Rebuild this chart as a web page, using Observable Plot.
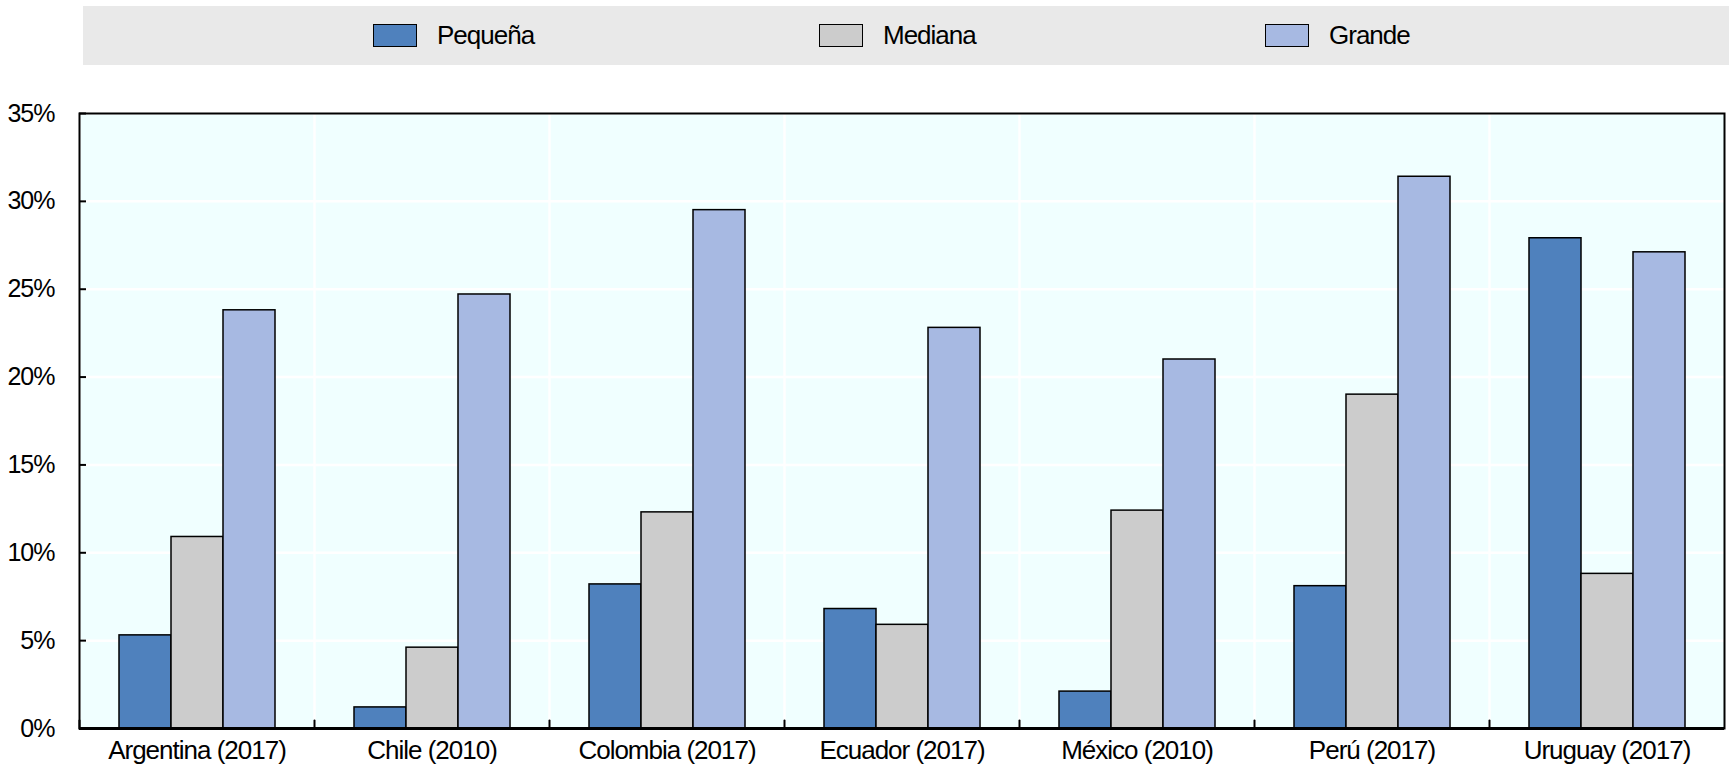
<!DOCTYPE html>
<html><head><meta charset="utf-8">
<script src="https://cdn.jsdelivr.net/npm/d3@7"></script>
<script src="https://cdn.jsdelivr.net/npm/@observablehq/plot@0.6"></script>
<style>
html,body{margin:0;padding:0;background:#fff;overflow:hidden;}
body{width:1729px;height:775px;position:relative;font-family:"Liberation Sans Narrow","Arial Narrow","Liberation Sans",sans-serif;}
#legend{position:absolute;left:83px;top:6px;width:1646px;height:59px;background:#e9e9e9;}
.item{position:absolute;top:0;height:59px;display:flex;align-items:center;font-size:26px;letter-spacing:-1px;color:#000;white-space:nowrap;}
.sw{width:42px;height:21px;border:1.5px solid #000;margin-right:20px;box-sizing:content-box;}
#chart{position:absolute;left:0;top:70px;}
#chart svg text{letter-spacing:-1px;}
</style></head>
<body>
<div id="legend"></div>
<div id="chart"></div>
<script>
const categories = ["Argentina (2017)", "Chile (2010)", "Colombia (2017)", "Ecuador (2017)", "México (2010)", "Perú (2017)", "Uruguay (2017)"];
const series = ["Pequeña", "Mediana", "Grande"];
const pequena = [5.3, 1.2, 8.2, 6.8, 2.1, 8.1, 27.9];
const mediana = [10.9, 4.6, 12.3, 5.9, 12.4, 19.0, 8.8];
const grande = [23.8, 24.7, 29.5, 22.8, 21.0, 31.4, 27.1];
const yTicks = [0, 5, 10, 15, 20, 25, 30, 35];
const colors = ["#4f81bd", "#cccccc", "#a7b9e2"];

const FONT = '"Liberation Sans Narrow","Arial Narrow","Liberation Sans",sans-serif';

// legend
const legend = document.getElementById("legend");
series.forEach((s, i) => {
  const it = document.createElement("div");
  it.className = "item";
  it.style.left = (290 + i * 446) + "px";
  const sw = document.createElement("div");
  sw.className = "sw";
  sw.style.background = colors[i];
  const tx = document.createElement("span");
  tx.textContent = s;
  it.appendChild(sw); it.appendChild(tx);
  legend.appendChild(it);
});

const values = [pequena, mediana, grande];
const data = categories.flatMap((c, i) => series.map((s, j) => ({country: c, series: s, value: values[j][i]})));

const chart = Plot.plot({
  width: 1729, height: 705,
  marginTop: 43, marginBottom: 47, marginLeft: 78, marginRight: 5,
  style: {fontFamily: FONT, fontSize: "26px", color: "#000", background: "transparent"},
  fx: {domain: categories, padding: 0, label: null},
  x: {domain: series, paddingInner: 0, paddingOuter: 0.75, axis: null},
  y: {domain: [0, 35], label: null},
  color: {domain: series, range: colors},
  marks: [
    Plot.frame({fill: "#f0ffff"}),
    Plot.gridY(yTicks, {stroke: "white", strokeOpacity: 1, strokeWidth: 2.5}),
    Plot.frame({anchor: "left", stroke: "white", strokeOpacity: 1, strokeWidth: 2.5}),
    Plot.barY(data, {fx: "country", x: "series", y: "value", fill: "series", stroke: "#000", strokeWidth: 1.5}),
    Plot.vector([0], {frameAnchor: "bottom-left", length: 8, rotate: 0, anchor: "start", stroke: "#000", strokeWidth: 2,
      shape: {draw(context, l) { context.moveTo(0, 0); context.lineTo(0, -l); }}}),
    Plot.ruleY([0], {stroke: "#000", strokeWidth: 3}),
    Plot.frame({facet: "super", stroke: "#000", strokeWidth: 2}),
    Plot.axisY(yTicks, {tickSize: -7, tickPadding: 32, strokeWidth: 2, tickFormat: d => d + "%", fontSize: 25, label: null}),
    Plot.axisFx({anchor: "bottom", tickSize: 0, tickPadding: 12, fontSize: 26, label: null})
  ]
});
document.getElementById("chart").appendChild(chart);
</script>
</body></html>
